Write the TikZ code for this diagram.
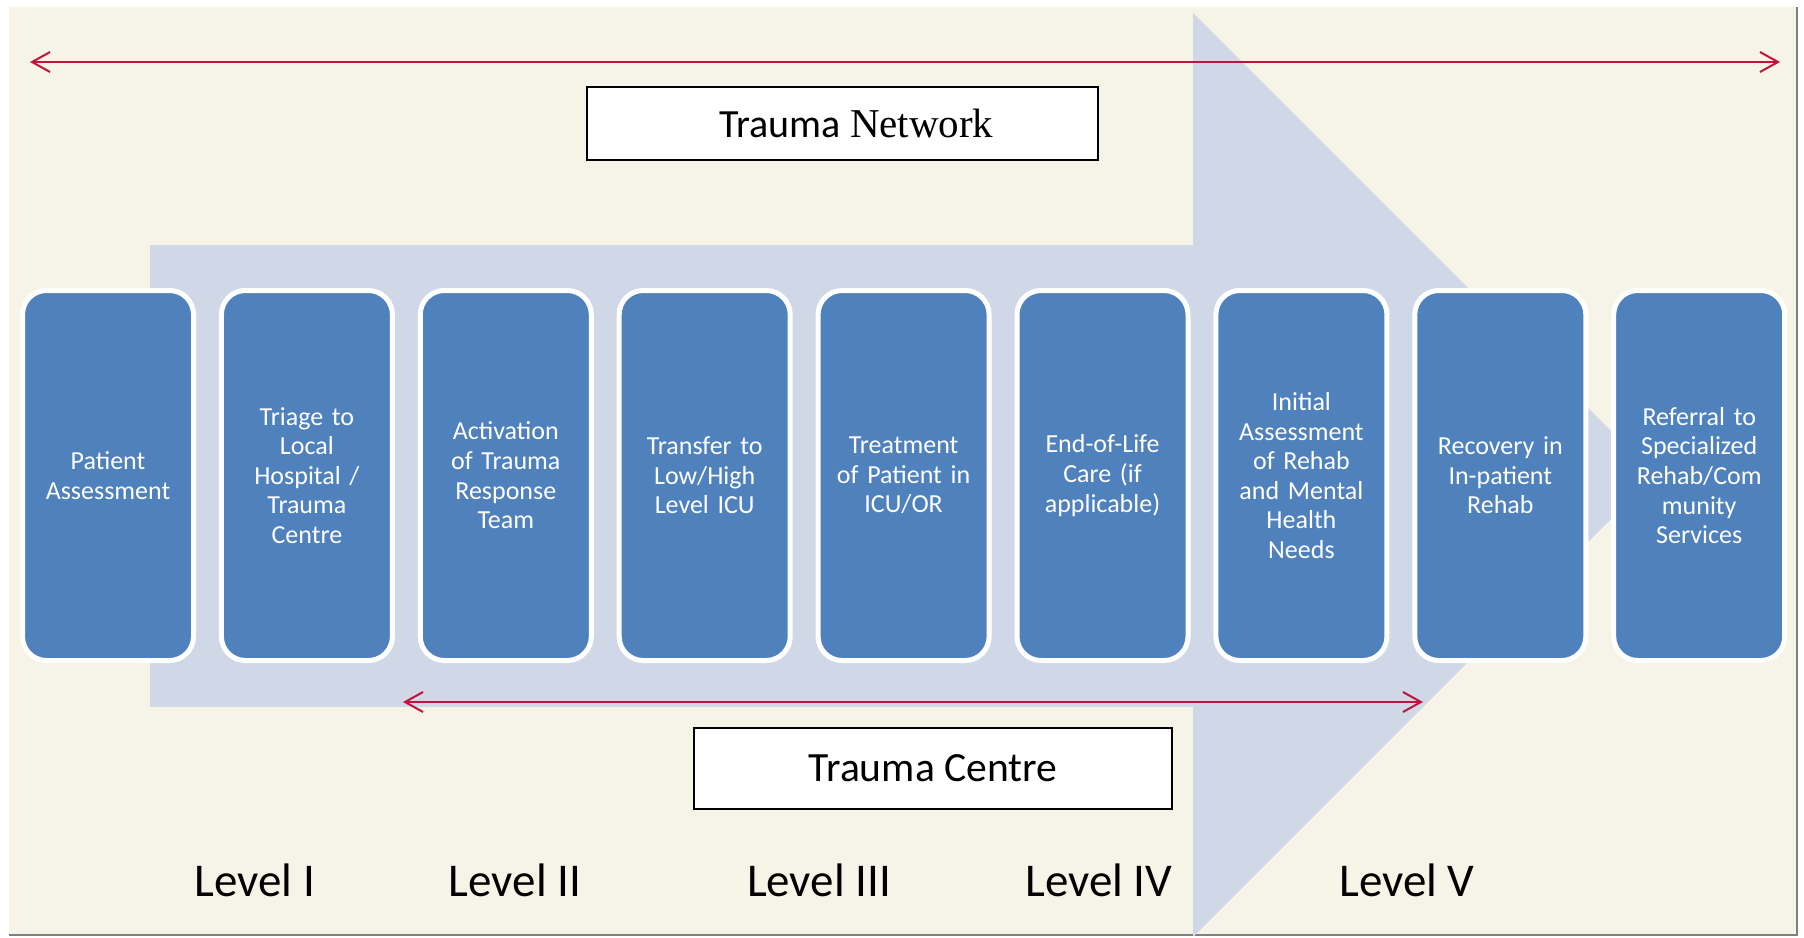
\documentclass[tikz,border=0pt]{standalone}
\usepackage{fontspec}
\setmainfont{Carlito}
\newfontfamily\serifnet{Liberation Serif}
\usetikzlibrary{arrows.meta}
\definecolor{cream}{HTML}{F6F4E7}
\definecolor{stemblue}{HTML}{D0D8E8}
\definecolor{boxblue}{HTML}{4F81BD}
\definecolor{linkred}{HTML}{C0143C}
\tikzset{
 stepbox/.style={rectangle,rounded corners=12pt,fill=boxblue,draw=white,line width=2.5pt,
  minimum width=85.5pt,minimum height=185pt,inner sep=0pt,text width=78pt,align=center,
  text=white,font=\fontsize{13}{14.8}\selectfont},
 levellabel/.style={anchor=base,inner sep=0pt,font=\fontsize{23.5}{28}\selectfont},
 titlebox/.style={rectangle,draw=black,fill=white,line width=0.8pt,inner sep=0pt},
 spanarrow/.style={linkred,line width=1pt,
  {Straight Barb[length=9pt,width=10pt]}-{Straight Barb[length=9pt,width=10pt]}}
}
\begin{document}
\begin{tikzpicture}[x=0.5pt,y=-0.5pt]
\useasboundingbox(0,0)rectangle(1804,937);
%background
\fill[white](0,0)rectangle(1804,937);
\fill[cream](9,7)rectangle(1797,935);
\draw[gray,line width=1pt](9,935)--(1797,935)--(1797,7);
%big arrow
\begin{scope}
\clip(9,7)rectangle(1797,935);
\fill[stemblue](150,245)rectangle(1194,707);
\fill[stemblue](1193,13)--(1655,475)--(1193,937)--cycle;
\end{scope}
%trauma network
\coordinate(netL)at(30,62);
\coordinate(netR)at(1780,62);
\draw[spanarrow](netL)--(netR);
\node[titlebox,minimum width=255.5pt,minimum height=36.5pt](net)at(842.5,123.5)
{\hspace*{14pt}\fontsize{20}{24}\selectfont Trauma {\serifnet\fontsize{20.5}{24}\selectfont Network}};
%steps
\foreach \i/\t in {1/{Patient\\Assessment},
 2/{Triage to\\Local\\Hospital /\\Trauma\\Centre},
 3/{Activation\\of Trauma\\Response\\Team},
 4/{Transfer to\\Low/High\\Level ICU},
 5/{Treatment\\of Patient in\\ICU/OR},
 6/{End-of-Life\\Care (if\\applicable)},
 7/{Initial\\Assessment\\of Rehab\\and Mental\\Health\\Needs},
 8/{Recovery in\\In-patient\\Rehab},
 9/{Referral to\\Specialized\\Rehab/Com\\munity\\Services}}{
\node[stepbox](s\i)at({108+198.9*(\i-1)},475.5){\t};
}
%trauma centre
\coordinate(cenL)at(403,702);
\coordinate(cenR)at(1423,702);
\draw[spanarrow](cenL)--(cenR);
\node[titlebox,minimum width=239pt,minimum height=40.5pt,font=\fontsize{20.8}{25}\selectfont](centre)at(933,768.5){Trauma Centre};
%levels
\node[levellabel](lv1)at(255,896){Level I};
\node[levellabel](lv2)at(515,896){Level II};
\node[levellabel](lv3)at(819,896){Level III};
\node[levellabel](lv4)at(1099,896){Level IV};
\node[levellabel](lv5)at(1407,896){Level V};
\end{tikzpicture}
\end{document}
